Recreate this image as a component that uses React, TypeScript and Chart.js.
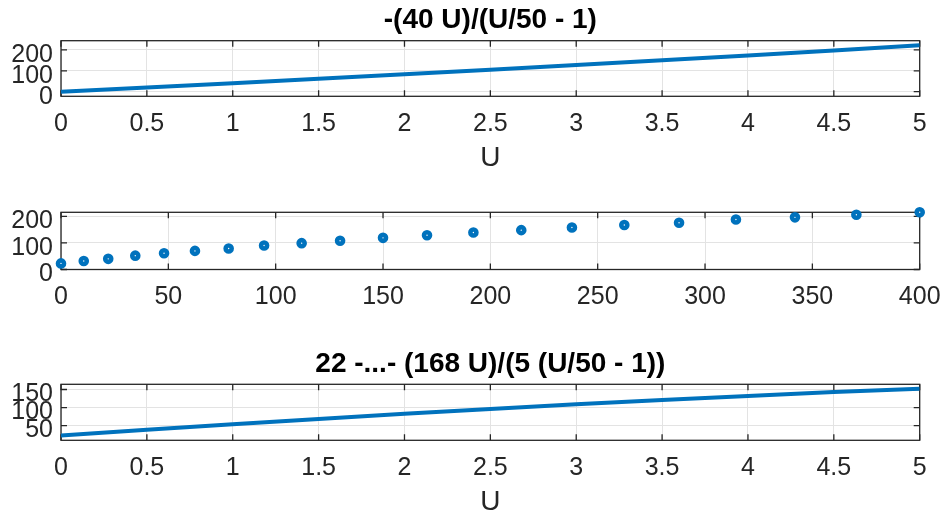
import React, { useEffect, useRef } from "react";
import { Chart, registerables } from "chart.js";

Chart.register(...registerables);

// ---- data ----
const U_VALUES = [0, 0.5, 1, 1.5, 2, 2.5, 3, 3.5, 4, 4.5, 5];
const TOP_VALUES = [0, 20.2, 40.8, 61.9, 83.3, 105.3, 127.7, 150.5, 173.9, 197.8, 222.2];
const SCATTER_X = [0, 10.6, 22, 34.6, 48, 62.4, 78.1, 94.6, 112.1, 130, 150, 170.5, 192.1, 214.4, 238, 262.4, 287.9, 314.4, 341.9, 370.5, 400];
const SCATTER_Y = [23, 32, 40, 52, 61, 70, 79, 90, 99, 108, 119, 129, 139, 148, 158, 167, 176, 188, 196, 206, 215];
const BOTTOM_VALUES = [22, 38.2, 53.6, 68.4, 82.6, 96, 108.8, 121, 132.2, 143, 152];

const X_TICKS_U = [0, 0.5, 1, 1.5, 2, 2.5, 3, 3.5, 4, 4.5, 5];
const X_TICKS_SCATTER = [0, 50, 100, 150, 200, 250, 300, 350, 400];
const Y_TICKS_TOP = [0, 100, 200];
const Y_TICKS_MID = [0, 100, 200];
const Y_TICKS_BOTTOM = [50, 100, 150];

const TITLE_TOP = "-(40 U)/(U/50 - 1)";
const TITLE_BOTTOM = "22 -...- (168 U)/(5 (U/50 - 1))";
const X_LABEL = "U";

const FONT = "'Liberation Sans', Arial, Helvetica, sans-serif";
const BLUE = "#0072BD";
const AXIS = "#262626";
const GRID = "#e3e3e3";
const W = 943;

const framePlugin = {
  id: "matlabFrame",
  beforeDatasetsDraw(chart: any) {
    const { ctx, chartArea: a, scales } = chart;
    const tl = 6;
    ctx.save();
    ctx.strokeStyle = AXIS;
    ctx.lineWidth = 1.3;
    ctx.beginPath();
    for (const t of scales.x.ticks) {
      const px = scales.x.getPixelForValue(t.value);
      ctx.moveTo(px, a.bottom);
      ctx.lineTo(px, a.bottom - tl);
      ctx.moveTo(px, a.top);
      ctx.lineTo(px, a.top + tl);
    }
    for (const t of scales.y.ticks) {
      const py = scales.y.getPixelForValue(t.value);
      ctx.moveTo(a.left, py);
      ctx.lineTo(a.left + tl, py);
      ctx.moveTo(a.right, py);
      ctx.lineTo(a.right - tl, py);
    }
    ctx.stroke();
    ctx.strokeRect(a.left, a.top, a.right - a.left, a.bottom - a.top);
    ctx.restore();
  },
  afterDraw(chart: any, _args: any, opts: any) {
    const { ctx, chartArea: a } = chart;
    const cx = (a.left + a.right) / 2;
    ctx.save();
    ctx.fillStyle = "#000";
    ctx.textAlign = "center";
    ctx.textBaseline = "middle";
    if (opts.title) {
      ctx.font = `bold 28px ${FONT}`;
      ctx.fillText(opts.title, cx, a.top - opts.titleGap);
    }
    if (opts.xlabel) {
      ctx.fillStyle = AXIS;
      ctx.font = `28px ${FONT}`;
      ctx.fillText(opts.xlabel, cx, a.bottom + opts.xlabelGap);
    }
    ctx.restore();
  },
};

type Panel = {
  top: number;
  height: number;
  padTop: number;
  xAxisHeight: number;
  xMin: number;
  xMax: number;
  xTicks: number[];
  yMin: number;
  yMax: number;
  yTicks: number[];
  title?: string;
  xlabel?: string;
  dataset: any;
  type: "line" | "scatter";
};

const PANELS: Panel[] = [
  {
    top: 0,
    height: 172,
    padTop: 40.7,
    xAxisHeight: 75.7,
    xMin: 0,
    xMax: 5,
    xTicks: X_TICKS_U,
    yMin: -22.2,
    yMax: 244.4,
    yTicks: Y_TICKS_TOP,
    title: TITLE_TOP,
    xlabel: X_LABEL,
    type: "line",
    dataset: {
      data: U_VALUES.map((u, i) => ({ x: u, y: TOP_VALUES[i] })),
      borderColor: BLUE,
      borderWidth: 4,
      pointRadius: 0,
      fill: false,
      tension: 0,
    },
  },
  {
    top: 172,
    height: 138,
    padTop: 40.3,
    xAxisHeight: 40.5,
    xMin: 0,
    xMax: 400,
    xTicks: X_TICKS_SCATTER,
    yMin: 0,
    yMax: 215,
    yTicks: Y_TICKS_MID,
    type: "scatter",
    dataset: {
      data: SCATTER_X.map((x, i) => ({ x, y: SCATTER_Y[i] })),
      backgroundColor: "#ffffff",
      borderColor: BLUE,
      borderWidth: 4.6,
      pointRadius: 3,
      clip: false,
    },
  },
  {
    top: 310,
    height: 206,
    padTop: 74.3,
    xAxisHeight: 75.7,
    xMin: 0,
    xMax: 5,
    xTicks: X_TICKS_U,
    yMin: 9,
    yMax: 164.5,
    yTicks: Y_TICKS_BOTTOM,
    title: TITLE_BOTTOM,
    xlabel: X_LABEL,
    type: "line",
    dataset: {
      data: U_VALUES.map((u, i) => ({ x: u, y: BOTTOM_VALUES[i] })),
      borderColor: BLUE,
      borderWidth: 4,
      pointRadius: 0,
      fill: false,
      tension: 0,
    },
  },
];

function SubPlot({ p }: { p: Panel }) {
  const ref = useRef<HTMLCanvasElement | null>(null);
  useEffect(() => {
    if (!ref.current) return;
    const chart = new Chart(ref.current, {
      type: p.type,
      data: { datasets: [p.dataset] },
      plugins: [framePlugin],
      options: {
        responsive: false,
        animation: false,
        devicePixelRatio: 1,
        layout: { padding: { left: 0, right: 23.3, top: p.padTop, bottom: 0 } },
        plugins: {
          legend: { display: false },
          tooltip: { enabled: false },
          matlabFrame: { title: p.title, xlabel: p.xlabel, titleGap: 20, xlabelGap: 62 },
        } as any,
        scales: {
          x: {
            type: "linear",
            min: p.xMin,
            max: p.xMax,
            afterBuildTicks: (s: any) => {
              s.ticks = p.xTicks.map((v) => ({ value: v }));
            },
            afterFit: (s: any) => {
              s.height = p.xAxisHeight;
              s.paddingLeft = 0;
              s.paddingRight = 0;
            },
            border: { display: false },
            grid: { color: GRID, lineWidth: 1, drawTicks: false },
            ticks: {
              autoSkip: false,
              maxRotation: 0,
              minRotation: 0,
              padding: 13,
              color: AXIS,
              font: { family: FONT, size: 25 },
              callback: (v: any) => String(v),
            },
          },
          y: {
            type: "linear",
            min: p.yMin,
            max: p.yMax,
            afterBuildTicks: (s: any) => {
              s.ticks = p.yTicks.map((v) => ({ value: v }));
            },
            afterFit: (s: any) => {
              s.width = 61;
              s.paddingTop = 0;
              s.paddingBottom = 0;
            },
            border: { display: false },
            grid: { color: GRID, lineWidth: 1, drawTicks: false },
            ticks: {
              autoSkip: false,
              padding: 8,
              labelOffset: 5,
              color: AXIS,
              font: { family: FONT, size: 25 },
              callback: (v: any) => String(v),
            },
          },
        },
      } as any,
    });
    return () => chart.destroy();
  }, [p]);
  return (
    <canvas
      ref={ref}
      width={W}
      height={p.height}
      style={{ position: "absolute", left: 0, top: p.top, display: "block" }}
    />
  );
}

export default function App() {
  return (
    <div style={{ position: "absolute", left: 0, top: 0, width: W, height: 516, background: "#fff" }}>
      {PANELS.map((p, i) => (
        <SubPlot key={i} p={p} />
      ))}
    </div>
  );
}
